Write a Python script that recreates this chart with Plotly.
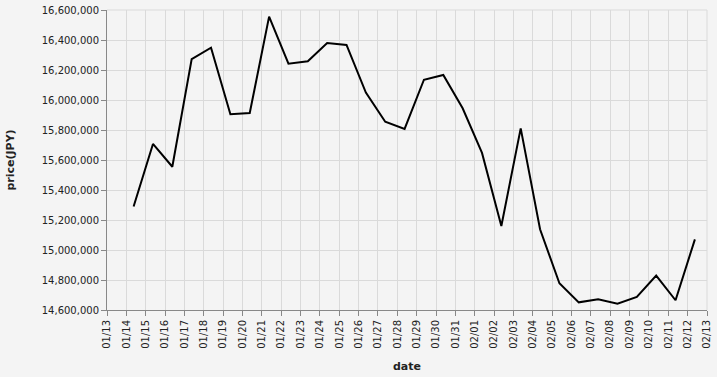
import plotly.graph_objects as go
import pandas as pd

dates = pd.date_range("2025-01-14 09:00", periods=30, freq="D")
prices = [15290000, 15707000, 15555000, 16273000, 16349000, 15905000, 15913000,
          16556000, 16242000, 16258000, 16380000, 16367000, 16049000, 15855000,
          15807000, 16135000, 16167000, 15945000, 15647000, 15160000, 15811000,
          15138000, 14778000, 14651000, 14671000, 14642000, 14687000, 14829000,
          14665000, 15071000]

x_range = ["2025-01-13", "2025-02-13"]
y_range = [14600000, 16600000]

bg = "#f4f4f4"
grid = "#dadada"
font = "DejaVu Sans"

fig = go.Figure()
fig.add_trace(go.Scatter(x=dates, y=prices, mode="lines",
                         line=dict(color="black", width=2), hoverinfo="x+y"))

fig.update_layout(
    width=717, height=377,
    margin=dict(l=107, r=10, t=10, b=67),
    paper_bgcolor=bg, plot_bgcolor=bg,
    showlegend=False,
    font=dict(family=font, size=10, color="#222"),
)
fig.update_xaxes(
    type="date", range=x_range, dtick=86400000, tick0="2025-01-13",
    tickformat="%m/%d", tickangle=-90, automargin=False,
    showgrid=True, gridcolor=grid, gridwidth=1,
    showline=True, linecolor="#888", linewidth=1,
    ticks="outside", ticklen=5, tickcolor="#888",
    zeroline=False,
    title=dict(text="<b>date</b>", font=dict(size=11, family=font, color="#222"), standoff=14),
)
fig.update_yaxes(
    range=y_range, dtick=200000, tickformat=",d", automargin=False,
    showgrid=True, gridcolor=grid, gridwidth=1,
    showline=True, linecolor="#888", linewidth=1,
    ticks="outside", ticklen=5, tickcolor="#888",
    zeroline=False,
    title=dict(text="<b>price(JPY)</b>", font=dict(size=11, family=font, color="#222"), standoff=24),
)
fig.add_shape(type="line", xref="paper", yref="paper", x0=0, x1=1, y0=1, y1=1,
              line=dict(color=grid, width=1), layer="below")
fig.add_shape(type="line", xref="paper", yref="paper", x0=1, x1=1, y0=0, y1=1,
              line=dict(color=grid, width=1), layer="below")

fig.write_html("out.html")
